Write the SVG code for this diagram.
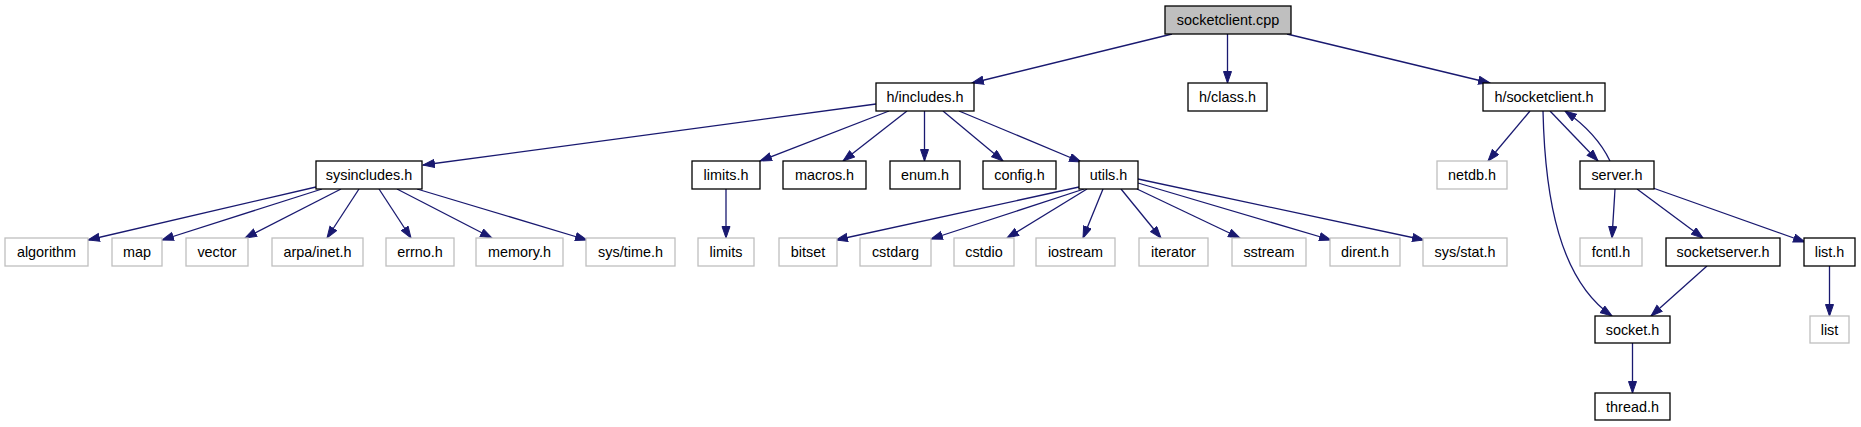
<svg xmlns="http://www.w3.org/2000/svg" width="1861" height="427" viewBox="0 0 1861 427">
<style>
.n rect{fill:#fff;stroke:#000;stroke-width:1.3}
.g rect{fill:#fff;stroke:#bfbfbf;stroke-width:1.3}
.r rect{fill:#bfbfbf;stroke:#000;stroke-width:1.3}
text{font-family:"Liberation Sans",Arial,sans-serif;font-size:14.4px;fill:#000;text-anchor:middle}
#edges path,#edges line{stroke:#191970;stroke-width:1.3;fill:none;marker-end:url(#a)}
</style>
<defs>
<marker id="a" markerUnits="userSpaceOnUse" markerWidth="14" markerHeight="11" refX="12" refY="4.5" orient="auto"><path d="M0.5,0.5 L12,4.5 L0.5,8.5 z" fill="#191970" stroke="#191970" stroke-width="1"/></marker>
</defs>
<rect width="1861" height="427" fill="#fff"/>
<g id="edges">
<line x1="1172" y1="34" x2="972" y2="83"/>
<line x1="1227.5" y1="34" x2="1227.5" y2="83"/>
<line x1="1287" y1="34" x2="1490" y2="83"/>
<line x1="876" y1="104" x2="423" y2="165"/>
<line x1="889" y1="111" x2="760" y2="161"/>
<line x1="907" y1="111" x2="843" y2="161"/>
<line x1="924.5" y1="111" x2="924.5" y2="161"/>
<line x1="943" y1="111" x2="1003" y2="161"/>
<line x1="959" y1="111" x2="1081" y2="162"/>
<line x1="316" y1="187" x2="88" y2="240"/>
<line x1="322" y1="189" x2="162" y2="240"/>
<line x1="341" y1="189" x2="245" y2="238"/>
<line x1="359" y1="189" x2="327" y2="238"/>
<line x1="379" y1="189" x2="411" y2="238"/>
<line x1="397" y1="189" x2="492" y2="238"/>
<line x1="417" y1="189" x2="587" y2="240"/>
<line x1="726" y1="189" x2="726" y2="238"/>
<line x1="1079" y1="187" x2="836" y2="240"/>
<line x1="1084" y1="189" x2="931" y2="239"/>
<line x1="1087" y1="189" x2="1007" y2="238"/>
<line x1="1103" y1="189" x2="1083" y2="238"/>
<line x1="1121" y1="189" x2="1161" y2="238"/>
<line x1="1137" y1="189" x2="1240" y2="238"/>
<line x1="1138" y1="183" x2="1331" y2="240"/>
<line x1="1138" y1="179" x2="1424" y2="240"/>
<line x1="1530" y1="111" x2="1488" y2="161"/>
<path d="M1543,111 C1545,200 1560,280 1612,316"/>
<line x1="1550" y1="111" x2="1598" y2="161"/>
<path d="M1610,161 C1600,140 1585,125 1565,111"/>
<line x1="1615" y1="189" x2="1612" y2="238"/>
<line x1="1637" y1="189" x2="1703" y2="238"/>
<line x1="1653" y1="188" x2="1805" y2="242"/>
<line x1="1707" y1="266" x2="1651" y2="316"/>
<line x1="1829.5" y1="266" x2="1829.5" y2="316"/>
<line x1="1632.5" y1="343" x2="1632.5" y2="393"/>
</g>
<g id="socketclient_cpp" class="r"><rect x="1165" y="6" width="126" height="28"/><text x="1228" y="25">socketclient.cpp</text></g>
<g id="h_includes_h" class="n"><rect x="876" y="83" width="98" height="28"/><text x="925" y="102">h/includes.h</text></g>
<g id="h_class_h" class="n"><rect x="1188" y="83" width="79" height="28"/><text x="1227.5" y="102">h/class.h</text></g>
<g id="h_socketclient_h" class="n"><rect x="1483" y="83" width="122" height="28"/><text x="1544" y="102">h/socketclient.h</text></g>
<g id="sysincludes_h" class="n"><rect x="316" y="161" width="106" height="28"/><text x="369" y="180">sysincludes.h</text></g>
<g id="limits_h" class="n"><rect x="692" y="161" width="68" height="28"/><text x="726" y="180">limits.h</text></g>
<g id="macros_h" class="n"><rect x="783" y="161" width="83" height="28"/><text x="824.5" y="180">macros.h</text></g>
<g id="enum_h" class="n"><rect x="890" y="161" width="70" height="28"/><text x="925" y="180">enum.h</text></g>
<g id="config_h" class="n"><rect x="983" y="161" width="73" height="28"/><text x="1019.5" y="180">config.h</text></g>
<g id="utils_h" class="n"><rect x="1079" y="161" width="59" height="28"/><text x="1108.5" y="180">utils.h</text></g>
<g id="netdb_h" class="g"><rect x="1437" y="161" width="70" height="28"/><text x="1472" y="180">netdb.h</text></g>
<g id="server_h" class="n"><rect x="1580" y="161" width="74" height="28"/><text x="1617" y="180">server.h</text></g>
<g id="algorithm" class="g"><rect x="5" y="238" width="83" height="28"/><text x="46.5" y="257">algorithm</text></g>
<g id="map" class="g"><rect x="112" y="238" width="50" height="28"/><text x="137" y="257">map</text></g>
<g id="vector" class="g"><rect x="186" y="238" width="62" height="28"/><text x="217" y="257">vector</text></g>
<g id="arpa_inet_h" class="g"><rect x="272" y="238" width="91" height="28"/><text x="317.5" y="257">arpa/inet.h</text></g>
<g id="errno_h" class="g"><rect x="386" y="238" width="68" height="28"/><text x="420" y="257">errno.h</text></g>
<g id="memory_h" class="g"><rect x="476" y="238" width="87" height="28"/><text x="519.5" y="257">memory.h</text></g>
<g id="sys_time_h" class="g"><rect x="586" y="238" width="89" height="28"/><text x="630.5" y="257">sys/time.h</text></g>
<g id="limits" class="g"><rect x="698" y="238" width="56" height="28"/><text x="726" y="257">limits</text></g>
<g id="bitset" class="g"><rect x="779" y="238" width="58" height="28"/><text x="808" y="257">bitset</text></g>
<g id="cstdarg" class="g"><rect x="860" y="238" width="71" height="28"/><text x="895.5" y="257">cstdarg</text></g>
<g id="cstdio" class="g"><rect x="954" y="238" width="60" height="28"/><text x="984" y="257">cstdio</text></g>
<g id="iostream" class="g"><rect x="1036" y="238" width="79" height="28"/><text x="1075.5" y="257">iostream</text></g>
<g id="iterator" class="g"><rect x="1139" y="238" width="69" height="28"/><text x="1173.5" y="257">iterator</text></g>
<g id="sstream" class="g"><rect x="1232" y="238" width="74" height="28"/><text x="1269" y="257">sstream</text></g>
<g id="dirent_h" class="g"><rect x="1330" y="238" width="70" height="28"/><text x="1365" y="257">dirent.h</text></g>
<g id="sys_stat_h" class="g"><rect x="1423" y="238" width="84" height="28"/><text x="1465" y="257">sys/stat.h</text></g>
<g id="fcntl_h" class="g"><rect x="1580" y="238" width="62" height="28"/><text x="1611" y="257">fcntl.h</text></g>
<g id="socketserver_h" class="n"><rect x="1666" y="238" width="114" height="28"/><text x="1723" y="257">socketserver.h</text></g>
<g id="list_h" class="n"><rect x="1804" y="238" width="51" height="28"/><text x="1829.5" y="257">list.h</text></g>
<g id="socket_h" class="n"><rect x="1595" y="316" width="75" height="27"/><text x="1632.5" y="334.5">socket.h</text></g>
<g id="list" class="g"><rect x="1810" y="316" width="39" height="27"/><text x="1829.5" y="334.5">list</text></g>
<g id="thread_h" class="n"><rect x="1595" y="393" width="75" height="27"/><text x="1632.5" y="411.5">thread.h</text></g>
</svg>
